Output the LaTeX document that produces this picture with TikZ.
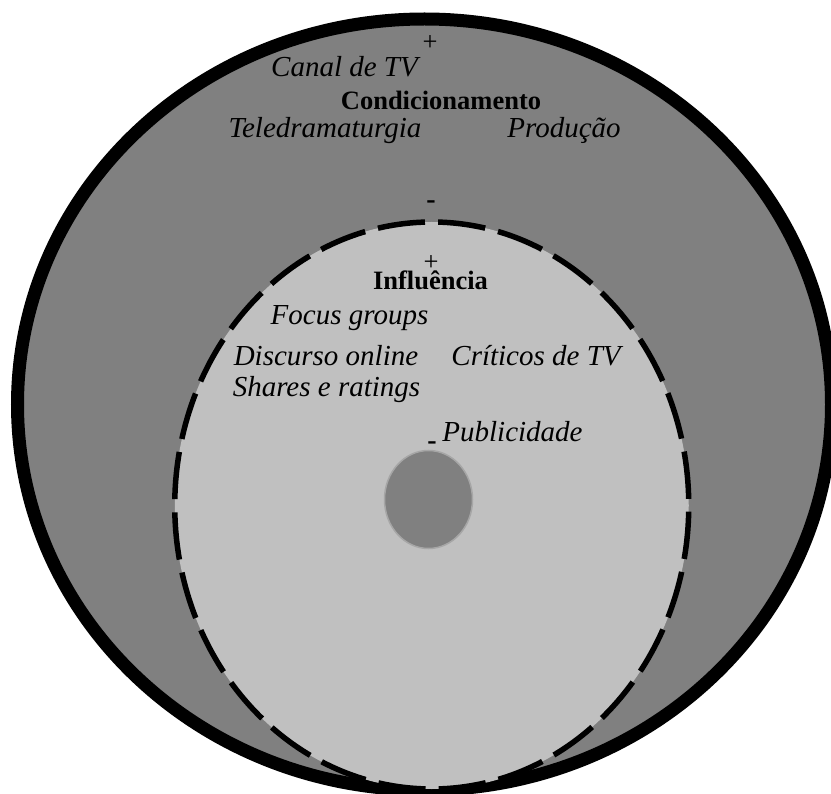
\documentclass[tikz,border=0pt]{standalone}
\usepackage{fontspec}
\setmainfont{Liberation Serif}
\usepackage{xcolor}
\definecolor{ringdark}{HTML}{808080}
\definecolor{ringlight}{HTML}{C0C0C0}
\definecolor{dotedge}{HTML}{A6A6A6}
\tikzset{
  outerring/.style={draw=black, line width=13pt, fill=ringdark},
  innerring/.style={draw=black, line width=5.5pt, fill=ringlight,
    dash pattern=on 47.5pt off 13.2pt, dash phase=54pt},
  coredot/.style={draw=dotedge, line width=1.5pt, fill=ringdark},
  factor/.style={anchor=base, inner sep=0pt,
    font=\fontsize{29}{34}\selectfont\itshape},
  heading/.style={anchor=base, inner sep=0pt,
    font=\fontsize{26.5}{32}\selectfont\bfseries},
  plusmark/.style={inner sep=0pt, font=\fontsize{26.5}{32}\selectfont},
  minusmark/.style={inner sep=0pt, font=\fontsize{28}{32}\selectfont\bfseries},
}

\begin{document}
\begin{tikzpicture}[x=1pt, y=-1pt]
  \useasboundingbox (0,0) rectangle (831,794);

  % rings
  \draw[outerring] (424.5,404.5) ellipse [x radius=407pt, y radius=385.5pt];
  \draw[innerring] (431.75,505.5) ellipse [x radius=257pt, y radius=283.5pt];
  \draw[coredot] (428.5,499.5) ellipse [x radius=44pt, y radius=49pt];

  % outer ring: conditioning
  \node[plusmark] (condplus) at (430,43) {+};
  \node[factor] (canal) at (344.5,77) {Canal de TV};
  \node[heading] (cond) at (441,110) {Condicionamento};
  \node[factor] (teled) at (325,138) {Teledramaturgia};
  \node[factor] (prod) at (564,138) {Produção};
  \node[minusmark] (condminus) at (431,205) {-};

  % inner ring: influence
  \node[plusmark] (inflplus) at (431,263) {+};
  \node[heading] (infl) at (430.5,290) {Influência};
  \node[factor] (focus) at (349.5,325) {Focus groups};
  \node[factor] (disc) at (326,366) {Discurso online};
  \node[factor] (crit) at (536,366) {Críticos de TV};
  \node[factor] (shares) at (326.5,397) {Shares e ratings};
  \node[factor] (publ) at (512.5,442) {Publicidade};
  \node[minusmark] (inflminus) at (432,445.5) {-};
\end{tikzpicture}
\end{document}
